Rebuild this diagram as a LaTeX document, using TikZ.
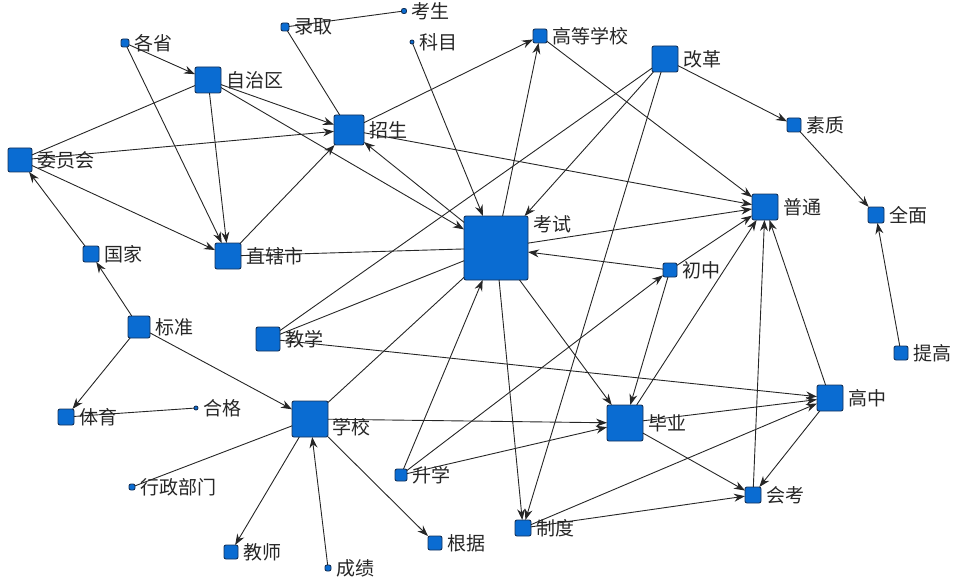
\documentclass[tikz,border=0pt]{standalone}
\usepackage{fontspec}
\setmainfont{Noto Sans CJK SC}
\usetikzlibrary{arrows.meta}
\definecolor{nblue}{RGB}{10,108,210}
\definecolor{nedge}{RGB}{20,50,90}
\tikzset{
  nd/.style={draw=nedge,fill=nblue,line width=0.9pt,rounded corners=2pt,inner sep=0pt,outer sep=0pt},
  lbl/.style={font=\fontsize{19}{19}\selectfont,inner sep=1pt,text=black!85},
  ed/.style={line width=0.9pt,black!85},
  ar/.style={ed,-{Stealth[length=11pt,width=8pt]}}
}
\newcommand\nd[6][4]{\node[nd,minimum size=#5pt,label={[lbl,label distance=#1pt]0:#6}] (#2) at (#3,#4) {};}
\begin{document}
\begin{tikzpicture}[x=1pt,y=-1pt]
\useasboundingbox (0,0) rectangle (968,588);
\nd{wyh}{20}{160}{24}{委员会}
\nd{gs}{125}{43}{8}{各省}
\nd{zzq}{208}{80}{26}{自治区}
\nd{lq}{285}{27}{8}{录取}
\nd{ks}{404}{11}{5}{考生}
\nd{km}{412}{42}{4}{科目}
\nd{zs}{349}{130}{30}{招生}
\nd{gj}{91}{254}{16}{国家}
\nd{zxs}{228}{256}{26}{直辖市}
\node[nd,minimum size=64pt,label={[lbl,anchor=west,yshift=-8pt,xshift=4pt]north east:考试}] (exam) at (496,248) {};
\nd{gdxx}{540}{36}{14}{高等学校}
\nd{gg}{665}{59}{26}{改革}
\nd{sz}{794}{125}{14}{素质}
\nd{pt}{765}{207}{26}{普通}
\nd{qm}{876}{215}{16}{全面}
\nd{cz}{670}{270}{14}{初中}
\nd{bz}{139}{327}{22}{标准}
\nd{jx}{268}{339}{24}{教学}
\nd{tg}{901}{353}{14}{提高}
\nd{ty}{66}{417}{16}{体育}
\nd{hg}{196}{408}{4}{合格}
\node[nd,minimum size=36pt,label={[lbl,anchor=west,yshift=-8pt,xshift=3pt]east:学校}] (xx) at (310,419) {};
\nd{by}{625}{423}{36}{毕业}
\nd{gz}{830}{398}{26}{高中}
\nd{xzbm}{132}{487}{6}{行政部门}
\nd{sx}{401}{475}{12}{升学}
\nd{hk}{753}{495}{16}{会考}
\nd{zd}{523}{528}{16}{制度}
\nd{js}{231}{552}{14}{教师}
\nd{gjv}{435}{543}{14}{根据}
\nd{cj}{328}{568}{6}{成绩}
% edges
\draw[ar] (gs) -- (zzq);
\draw[ar] (gs) -- (zxs);
\draw[ar] (zzq) -- (zxs);
\draw[ar] (zzq) -- (zs);
\draw[ed] (zzq) -- (wyh);
\draw[ar] (zzq) -- (exam);
\draw[ar] (wyh) -- (zs);
\draw[ar] (wyh) -- (zxs);
\draw[ar] (gj) -- (wyh);
\draw[ar] (bz) -- (gj);
\draw[ar] (bz) -- (ty);
\draw[ar] (bz) -- (xx);
\draw[ed] (ty) -- (hg);
\draw[ed] (lq) -- (ks);
\draw[ed] (lq) -- (zs);
\draw[ar] (km) -- (exam);
\draw[ar] (zxs) -- (zs);
\draw[ed] (zxs) -- (exam);
\draw[ar] (exam) -- (zs);
\draw[ar] (zs) -- (gdxx);
\draw[ar] (zs) -- (pt);
\draw[ar] (exam) -- (gdxx);
\draw[ar] (exam) -- (pt);
\draw[ar] (cz) -- (exam);
\draw[ar] (gdxx) -- (pt);
\draw[ar] (gg) -- (sz);
\draw[ar] (sz) -- (qm);
\draw[ar] (tg) -- (qm);
\draw[ed] (gg) -- (jx);
\draw[ar] (gg) -- (exam);
\draw[ar] (gg) -- (zd);
\draw[ar] (cz) -- (pt);
\draw[ar] (sx) -- (cz);
\draw[ar] (cz) -- (by);
\draw[ar] (by) -- (pt);
\draw[ar] (gz) -- (pt);
\draw[ar] (hk) -- (pt);
\draw[ar] (exam) -- (by);
\draw[ar] (exam) -- (zd);
\draw[ar] (sx) -- (exam);
\draw[ed] (xx) -- (exam);
\draw[ed] (jx) -- (exam);
\draw[ar] (xx) -- (by);
\draw[ar] (sx) -- (by);
\draw[ar] (xx) -- (js);
\draw[ar] (xx) -- (gjv);
\draw[ar] (cj) -- (xx);
\draw[ed] (xx) -- (xzbm);
\draw[ar] (jx) -- (gz);
\draw[ar] (by) -- (gz);
\draw[ar] (by) -- (hk);
\draw[ar] (zd) -- (hk);
\draw[ar] (zd) -- (gz);
\draw[ar] (gz) -- (hk);
\end{tikzpicture}
\end{document}
